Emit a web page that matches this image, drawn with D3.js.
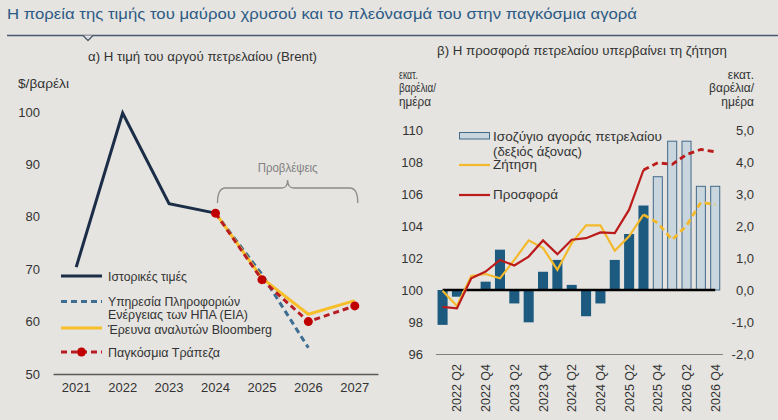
<!DOCTYPE html>
<html>
<head>
<meta charset="utf-8">
<script src="https://cdn.jsdelivr.net/npm/d3@7"></script>
<style>
  html, body { margin: 0; padding: 0; background: #e5e4e0; }
  svg { display: block; font-family: "Liberation Sans", Arial, sans-serif; }
</style>
</head>
<body>
<svg id="chart" width="778" height="420"></svg>
<script>
// ---------- DATA ----------
const years = ["2021", "2022", "2023", "2024", "2025", "2026", "2027"];
const historical = [70.4, 99.8, 82.5, 80.7, null, null, null];
const eia = [null, null, null, 80.7, 69.0, 55.0, null];
const bloomberg = [null, null, null, 80.7, 68.3, 61.4, 64.0];
const worldBank = [null, null, null, 80.7, 68.0, 60.0, 63.0];
const priceTicks = [50, 60, 70, 80, 90, 100];

const quarters = ["2022 Q1", "2022 Q2", "2022 Q3", "2022 Q4",
                  "2023 Q1", "2023 Q2", "2023 Q3", "2023 Q4",
                  "2024 Q1", "2024 Q2", "2024 Q3", "2024 Q4",
                  "2025 Q1", "2025 Q2", "2025 Q3", "2025 Q4",
                  "2026 Q1", "2026 Q2", "2026 Q3", "2026 Q4"];
const balance = [-1.09, -0.21, 0.0, 0.26, 1.26, -0.42, -1.01, 0.57, 0.94, 0.16,
                 -0.82, -0.42, 0.94, 1.75, 2.64, 3.54, 4.65, 4.65, 3.24, 3.24];
const demand = [99.96, 99.0, 100.88, 101.0, 100.73, 101.88, 103.1, 102.62, 101.26, 102.93,
                104.04, 104.04, 102.45, 103.35, 104.71, 104.19, 103.14, 104.02, 105.48, 105.34];
const supply = [98.95, 98.85, 100.73, 101.15, 101.88, 101.53, 102.09, 103.1, 102.24, 103.14,
                103.24, 103.6, 103.56, 105.02, 107.5, 107.95, 107.85, 108.47, 108.78, 108.64];
const volumeTicks = [96, 98, 100, 102, 104, 106, 108, 110];
const balanceTicks = [-2, -1, 0, 1, 2, 3, 4, 5];
const quarterLabels = quarters.filter((q, i) => i % 2 === 1);
const lastActualQuarter = "2025 Q3";
const firstForecastBar = "2025 Q4";

// ---------- SETUP ----------
const svg = d3.select("#chart");
const bg = "#e5e4e0";
const txt = "#333333";

function fitText(sel, w) { sel.attr("textLength", w).attr("lengthAdjust", "spacingAndGlyphs"); return sel; }

// Title
fitText(svg.append("text").attr("x", 7).attr("y", 19).attr("font-size", 15.5)
  .attr("fill", "#2c5a85")
  .text("Η πορεία της τιμής του μαύρου χρυσού και το πλεόνασμά του στην παγκόσμια αγορά"), 630);
svg.append("path").attr("d", "M7,35.5H778").attr("stroke", "#4a5870").attr("stroke-width", 1.5).attr("fill", "none");
svg.append("path").attr("d", "M83,35.5L88,40.5L93,35.5").attr("stroke", "#4a5870").attr("stroke-width", 1.3).attr("fill", bg);

// ---------- LEFT CHART ----------
fitText(svg.append("text").attr("x", 88).attr("y", 61).attr("font-size", 12).attr("fill", txt)
  .text("α) Η τιμή του αργού πετρελαίου (Brent)"), 229);
fitText(svg.append("text").attr("x", 18).attr("y", 88).attr("font-size", 12).attr("fill", txt)
  .text("$/βαρέλι"), 51);

const xL = d3.scaleBand().domain(years).range([53, 378]);
const cx = y => xL(y) + xL.bandwidth() / 2;
const yL = d3.scaleLinear().domain([50, 100]).range([374, 112]);

const axL = svg.append("g").attr("transform", "translate(0,374)")
  .call(d3.axisBottom(xL).tickSize(0).tickPadding(9));
axL.select(".domain").attr("stroke", "#595959").attr("stroke-width", 1.5);
axL.selectAll("text").attr("font-size", 13).attr("fill", txt).attr("font-family", "Liberation Sans, Arial, sans-serif");

const ayL = svg.append("g").attr("transform", "translate(42,0)")
  .call(d3.axisLeft(yL).tickValues(priceTicks).tickSize(0).tickPadding(2));
ayL.select(".domain").remove();
ayL.selectAll("text").attr("font-size", 13).attr("fill", txt).attr("font-family", "Liberation Sans, Arial, sans-serif");

const lineL = d3.line().defined(d => d[1] != null).x(d => cx(d[0])).y(d => yL(d[1]));
const zipY = arr => years.map((y, i) => [y, arr[i]]);

svg.append("path").datum(zipY(historical)).attr("d", lineL)
  .attr("fill", "none").attr("stroke", "#1b2d47").attr("stroke-width", 3).attr("stroke-linejoin", "miter");
svg.append("path").datum(zipY(eia)).attr("d", lineL)
  .attr("fill", "none").attr("stroke", "#3d6e91").attr("stroke-width", 3).attr("stroke-dasharray", "6,4");
svg.append("path").datum(zipY(bloomberg)).attr("d", lineL)
  .attr("fill", "none").attr("stroke", "#f7bf2a").attr("stroke-width", 3);
svg.append("path").datum(zipY(worldBank)).attr("d", lineL)
  .attr("fill", "none").attr("stroke", "#b81d24").attr("stroke-width", 3).attr("stroke-dasharray", "6,4");
svg.selectAll(".wbdot").data(zipY(worldBank).filter(d => d[1] != null)).enter().append("circle")
  .attr("cx", d => cx(d[0])).attr("cy", d => yL(d[1])).attr("r", 4.5).attr("fill", "#c00000");

// Forecast brace
const bx0 = cx("2024") + 2, bx1 = cx("2027") + 3, bm = (bx0 + bx1) / 2;
svg.append("path")
  .attr("d", `M${bx0},203 Q${bx0},188 ${bx0 + 8},188 L${bm - 6},188 Q${bm},188 ${bm},180 Q${bm},188 ${bm + 6},188 L${bx1 - 8},188 Q${bx1},188 ${bx1},203`)
  .attr("fill", "none").attr("stroke", "#8c8c8c").attr("stroke-width", 1.3);
fitText(svg.append("text").attr("x", bm - 30).attr("y", 172).attr("font-size", 12).attr("fill", "#808080")
  .text("Προβλέψεις"), 60);

// Left legend
const lg = svg.append("g");
lg.append("line").attr("x1", 61).attr("x2", 102).attr("y1", 276).attr("y2", 276).attr("stroke", "#1b2d47").attr("stroke-width", 3);
lg.append("line").attr("x1", 61).attr("x2", 102).attr("y1", 301.5).attr("y2", 301.5).attr("stroke", "#3d6e91").attr("stroke-width", 3).attr("stroke-dasharray", "6,4");
lg.append("line").attr("x1", 61).attr("x2", 102).attr("y1", 328).attr("y2", 328).attr("stroke", "#f7bf2a").attr("stroke-width", 3);
lg.append("line").attr("x1", 61).attr("x2", 102).attr("y1", 352).attr("y2", 352).attr("stroke", "#b81d24").attr("stroke-width", 3).attr("stroke-dasharray", "6,4");
lg.append("circle").attr("cx", 81.5).attr("cy", 352).attr("r", 4.5).attr("fill", "#c00000");
const legL = [["Ιστορικές τιμές", 280.5, 79], ["Υπηρεσία Πληροφοριών", 305.5, 132],
              ["Ενέργειας των ΗΠΑ (EIA)", 319, 140], ["Έρευνα αναλυτών Bloomberg", 333.5, 164],
              ["Παγκόσμια Τράπεζα", 356.5, 112]];
legL.forEach(([t, y, w]) => fitText(lg.append("text").attr("x", 108).attr("y", y).attr("font-size", 12).attr("fill", txt).text(t), w));

// ---------- RIGHT CHART ----------
fitText(svg.append("text").attr("x", 437).attr("y", 55).attr("font-size", 12).attr("fill", txt)
  .text("β) Η προσφορά πετρελαίου υπερβαίνει τη ζήτηση"), 290);
[["εκατ.", 79, 19], ["βαρέλια/", 92, 37], ["ημέρα", 106, 32]].forEach(([t, y, w]) => {
  fitText(svg.append("text").attr("x", 399).attr("y", y).attr("font-size", 12).attr("fill", txt).text(t), w);
  svg.append("text").attr("x", 754).attr("y", y).attr("font-size", 12).attr("fill", txt).attr("text-anchor", "end").text(t);
});

const xR = d3.scaleBand().domain(quarters).range([435.4, 722.4]).paddingInner(0.3).paddingOuter(0.15);
const qc = q => xR(q) + xR.bandwidth() / 2;
const yV = d3.scaleLinear().domain([96, 110]).range([354, 130]);
const yB = d3.scaleLinear().domain([-2, 5]).range([354, 130]);

const locale = d3.formatLocale({ decimal: ",", thousands: ".", grouping: [3], currency: ["", "€"], minus: "-" });
const fmtB = locale.format(".1f");

const ayV = svg.append("g").attr("transform", "translate(423,0)")
  .call(d3.axisLeft(yV).tickValues(volumeTicks).tickSize(0).tickPadding(0));
ayV.select(".domain").remove();
ayV.selectAll("text").attr("font-size", 13).attr("fill", txt).attr("font-family", "Liberation Sans, Arial, sans-serif");

const ayB = svg.append("g").attr("transform", "translate(754,0)")
  .call(d3.axisLeft(yB).tickValues(balanceTicks).tickFormat(fmtB).tickSize(0).tickPadding(0));
ayB.select(".domain").remove();
ayB.selectAll("text").attr("font-size", 13).attr("fill", txt).attr("font-family", "Liberation Sans, Arial, sans-serif");

// bottom axis
const axR = svg.append("g").attr("transform", "translate(0,354)")
  .call(d3.axisBottom(xR).tickValues(quarterLabels).tickSize(0));
axR.select(".domain").attr("stroke", "#808080").attr("stroke-width", 1.2);
axR.selectAll("text")
  .attr("font-size", 12.5).attr("fill", txt).attr("font-family", "Liberation Sans, Arial, sans-serif")
  .attr("text-anchor", "end").attr("transform", "translate(0,10) rotate(-90)")
  .attr("x", 0).attr("y", 0).attr("dy", "0.36em");

// bars
const fIdx = quarters.indexOf(firstForecastBar);
svg.selectAll(".bar").data(quarters.map((q, i) => ({ q, v: balance[i], f: i >= fIdx }))).enter().append("rect")
  .attr("x", d => xR(d.q) + (d.f ? 0.5 : 0))
  .attr("width", d => xR.bandwidth() - (d.f ? 1 : 0))
  .attr("y", d => Math.min(yB(d.v), yB(0)))
  .attr("height", d => Math.abs(yB(d.v) - yB(0)))
  .attr("fill", d => d.f ? "#c9d6de" : "#1d5a80")
  .attr("stroke", d => d.f ? "#41698a" : "none")
  .attr("stroke-width", 1);

// zero line
svg.append("line").attr("x1", qc(quarters[0])).attr("x2", qc(quarters[quarters.length - 1]))
  .attr("y1", yB(0)).attr("y2", yB(0)).attr("stroke", "#000").attr("stroke-width", 2.5);

// lines
const la = quarters.indexOf(lastActualQuarter);
const lineR = d3.line().x(d => qc(d[0])).y(d => yV(d[1]));
function drawSeries(vals, color) {
  const pts = quarters.map((q, i) => [q, vals[i]]);
  svg.append("path").datum(pts.slice(0, la + 1)).attr("d", lineR)
    .attr("fill", "none").attr("stroke", color).attr("stroke-width", 2.2);
  svg.append("path").datum(pts.slice(la)).attr("d", lineR)
    .attr("fill", "none").attr("stroke", color).attr("stroke-width", 2.8).attr("stroke-dasharray", "6,4");
}
drawSeries(demand, "#f4b92a");
drawSeries(supply, "#bb1b1b");

// right legend
const rg = svg.append("g");
rg.append("rect").attr("x", 459.5).attr("y", 132.5).attr("width", 30).attr("height", 6.5)
  .attr("fill", "#c9d6de").attr("stroke", "#41698a").attr("stroke-width", 1);
rg.append("line").attr("x1", 459).attr("x2", 490).attr("y1", 165).attr("y2", 165).attr("stroke", "#f4b92a").attr("stroke-width", 2.2);
rg.append("line").attr("x1", 459).attr("x2", 490).attr("y1", 195).attr("y2", 195).attr("stroke", "#bb1b1b").attr("stroke-width", 2.2);
[["Ισοζύγιο αγοράς πετρελαίου", 140.5, 169], ["(δεξιός άξονας)", 155.5, 89],
 ["Ζήτηση", 169, 44], ["Προσφορά", 199, 65]].forEach(([t, y, w]) =>
  fitText(rg.append("text").attr("x", 493).attr("y", y).attr("font-size", 12.5).attr("fill", txt).text(t), w));
</script>
</body>
</html>
